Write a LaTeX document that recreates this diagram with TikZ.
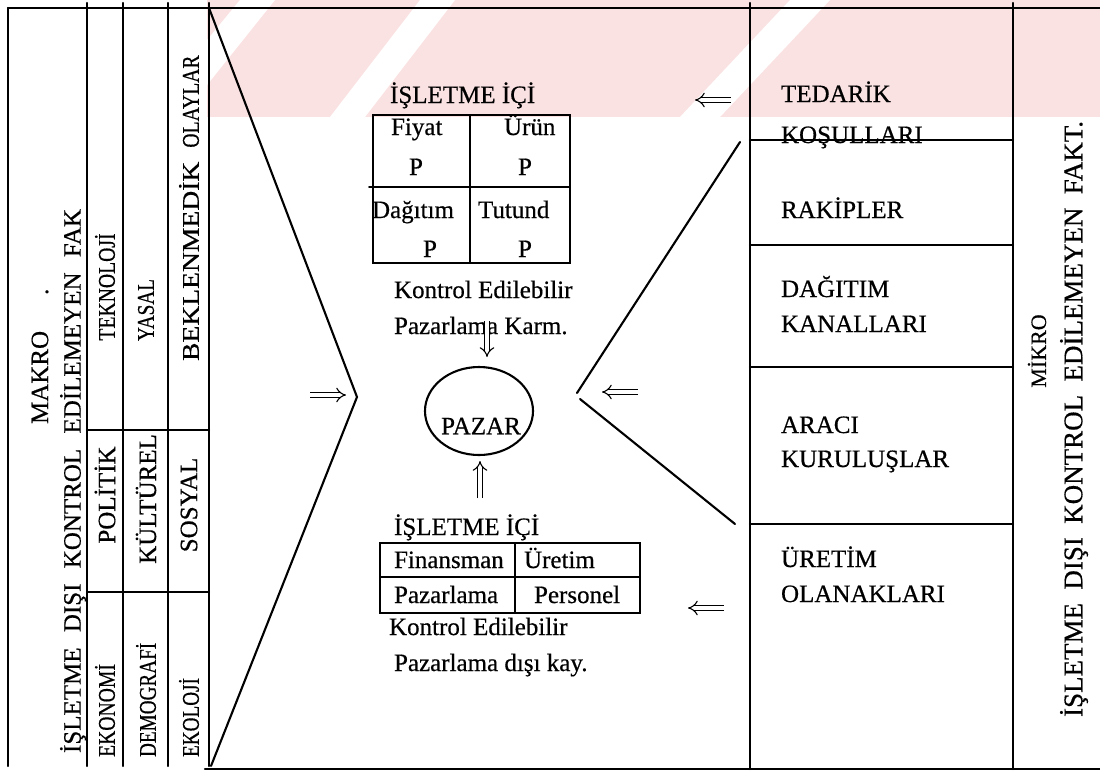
\documentclass[tikz,border=0pt]{standalone}
\usepackage{fontspec}
\usepackage{graphicx}
\setmainfont{Liberation Serif}[FakeBold=0.5]
\usetikzlibrary{arrows.meta,shapes.geometric}
\definecolor{stamp}{RGB}{251,226,226}
\begin{document}
\begin{tikzpicture}[x=1pt,y=-1pt,line width=2.1pt,line cap=round,
  txt/.style={inner sep=0pt,font=\fontsize{25}{30}\selectfont},
  col/.style={inner sep=0pt,font=\fontsize{24}{28}\selectfont,rotate=90},
  side/.style={inner sep=0pt,font=\fontsize{25}{30}\selectfont,rotate=90},
  dblarrow/.style={double distance=4pt,line width=1.1pt,-{Implies[scale=1.8]},line cap=butt},
]
\useasboundingbox (0,0) rectangle (1100,774);

% ---- faint stamp behind the upper part ----
\fill[stamp] (207,0) rectangle (1100,117);
\fill[white] (207,40) -- (240,0) -- (275,0) -- (207,85) -- cycle;
\fill[white] (330,117) -- (420,0) -- (455,0) -- (365,117) -- cycle;
\fill[white] (680,117) -- (790,0) -- (830,0) -- (720,117) -- cycle;

% ---- outer rules ----
\draw (8,8) -- (1100,8);
\draw (205,769) -- (1100,769);

% ---- macro-environment columns (left) ----
\draw (8,8) -- (8,766);
\draw (87,3) -- (87,766);
\draw (123,3) -- (123,766);
\draw (168,3) -- (168,766);
\draw (209,3) -- (209,766);
\draw (87,430) -- (209,430);
\draw (87,592) -- (209,592);

\node[side,anchor=west] (makro) at (40,425) {MAKRO\hspace{36pt}.};
\node[side,anchor=west] (ldisi) at (73,754) {\makebox[544pt][s]{İŞLETME DIŞI KONTROL EDİLEMEYEN FAK}};

\node[col] (tekno) at (105,287) {\scalebox{0.82}[1]{TEKNOLOJİ}};
\node[col] (yasal) at (146,310) {\scalebox{0.8}[1]{YASAL}};
\node[col,anchor=west] (bekl) at (189,362) {\scalebox{1.15}[1]{BEKLENMEDİK}\hspace{14pt}\scalebox{0.82}[1]{OLAYLAR}};
\node[col,font=\fontsize{25}{30}\selectfont] (polit) at (105,495) {POLİTİK};
\node[col,font=\fontsize{25}{30}\selectfont] (kult) at (146,499) {KÜLTÜREL};
\node[col,font=\fontsize{25}{30}\selectfont] (sosyal) at (189,505) {SOSYAL};
\node[col,anchor=west] (ekon) at (105,758) {\scalebox{0.82}[1]{EKONOMİ}};
\node[col,anchor=west] (demo) at (146,758) {\scalebox{0.8}[1]{DEMOGRAFİ}};
\node[col,anchor=west] (ekol) at (189,758) {\scalebox{0.8}[1]{EKOLOJİ}};

% ---- left funnel ----
\coordinate (lt) at (209,8);
\coordinate (lapex) at (357,397);
\coordinate (lb) at (211,766);
\draw (lt) -- (lapex) -- (lb);

% ---- micro-environment column (right) ----
\draw (750,3) -- (750,769);
\draw (1013,3) -- (1013,769);
\draw (750,140) -- (1013,140);
\draw (750,245) -- (1013,245);
\draw (750,367) -- (1013,367);
\draw (750,524) -- (1013,524);

\node[txt,anchor=base west] (ted1) at (780,102) {TEDARİK};
\node[txt,anchor=base west] (ted2) at (780,143) {KOŞULLARI};
\node[txt,anchor=base west] (rak) at (780,218) {RAKİPLER};
\node[txt,anchor=base west] (dag1) at (780,297) {DAĞITIM};
\node[txt,anchor=base west] (dag2) at (780,332) {KANALLARI};
\node[txt,anchor=base west] (ara1) at (780,433) {ARACI};
\node[txt,anchor=base west] (ara2) at (780,467) {KURULUŞLAR};
\node[txt,anchor=base west] (ure1) at (780,567) {ÜRETİM};
\node[txt,anchor=base west] (ure2) at (780,602) {OLANAKLARI};

\node[side,font=\fontsize{22}{26}\selectfont] (mikro) at (1037,351) {MİKRO};
\node[side,anchor=west,font=\fontsize{27}{30}\selectfont] (rdisi) at (1074,718) {\makebox[596pt][s]{İŞLETME DIŞI KONTROL EDİLEMEYEN FAKT.}};

% ---- right funnel ----
\coordinate (rt) at (740,142);
\coordinate (rapex1) at (577,393);
\coordinate (rapex2) at (580,399);
\coordinate (rb) at (735,524);
\draw (rt) -- (rapex1);
\draw (rapex2) -- (rb);

% ---- marketing mix (top centre) ----
\node[txt,anchor=base west] (ic1) at (389,103) {İŞLETME İÇİ};
\draw[line width=1.9pt] (373,115) rectangle (570,263);
\draw[line width=1.9pt] (470,115) -- (470,263);
\draw[line width=1.9pt] (369,187) -- (570,187);
\node[txt,anchor=base west] (fiyat) at (390,135) {Fiyat};
\node[txt,anchor=base west] (urun) at (503,135) {Ürün};
\node[txt,anchor=base west] (p1) at (408,175) {P};
\node[txt,anchor=base west] (p2) at (517,175) {P};
\node[txt,anchor=base west] (dagitim) at (371,218) {Dağıtım};
\node[txt,anchor=base west] (tutund) at (477,218) {Tutund};
\node[txt,anchor=base west] (p3) at (422,257) {P};
\node[txt,anchor=base west] (p4) at (517,257) {P};
\node[txt,anchor=base west] (ke1) at (393,298) {Kontrol Edilebilir};
\node[txt,anchor=base west] (pk1) at (393,334) {Pazarlama Karm.};

% ---- market ----
\node[draw,ellipse,minimum width=108pt,minimum height=88pt,inner sep=0pt] (pazarE) at (479,411) {};
\node[txt] (pazar) at (481,426) {PAZAR};

% ---- non-marketing resources (bottom centre) ----
\node[txt,anchor=base west] (ic2) at (393,535) {İŞLETME İÇİ};
\draw[line width=1.9pt] (380,543) rectangle (640,613);
\draw[line width=1.9pt] (515,543) -- (515,613);
\draw[line width=1.9pt] (380,577) -- (640,577);
\node[txt,anchor=base west] (fin) at (393,568) {Finansman};
\node[txt,anchor=base west] (uretim) at (523,568) {Üretim};
\node[txt,anchor=base west] (paz) at (393,603) {Pazarlama};
\node[txt,anchor=base west] (pers) at (533,603) {Personel};
\node[txt,anchor=base west] (ke2) at (388,635) {Kontrol Edilebilir};
\node[txt,anchor=base west] (pd2) at (393,671) {Pazarlama dışı kay.};

% ---- influence arrows ----
\coordinate (a1s) at (310,395); \coordinate (a1e) at (346,395);
\coordinate (a2s) at (638,392); \coordinate (a2e) at (602,392);
\coordinate (a3s) at (731,100); \coordinate (a3e) at (695,100);
\coordinate (a4s) at (724,608); \coordinate (a4e) at (688,608);
\coordinate (a5s) at (487,321); \coordinate (a5e) at (487,357);
\coordinate (a6s) at (480,498); \coordinate (a6e) at (480,461);
\draw[dblarrow] (a1s) -- (a1e);
\draw[dblarrow] (a2s) -- (a2e);
\draw[dblarrow] (a3s) -- (a3e);
\draw[dblarrow] (a4s) -- (a4e);
\draw[dblarrow] (a5s) -- (a5e);
\draw[dblarrow] (a6s) -- (a6e);
\end{tikzpicture}
\end{document}
